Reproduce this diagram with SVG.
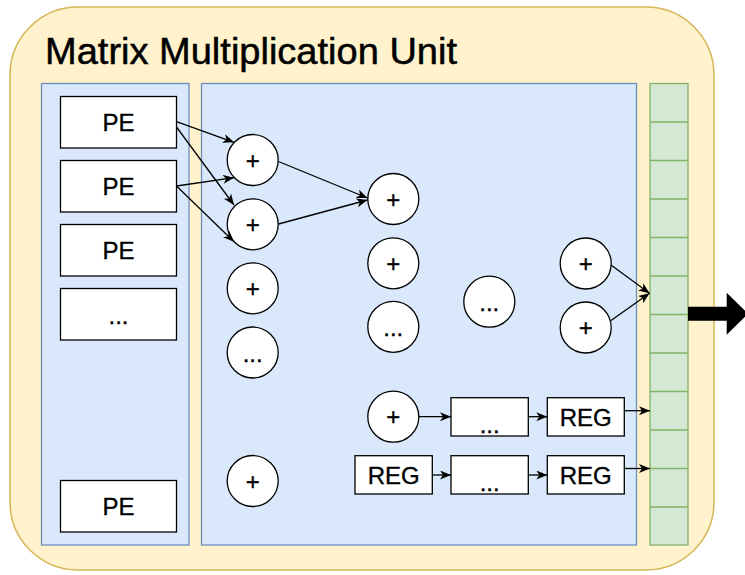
<svg xmlns="http://www.w3.org/2000/svg" width="745" height="575" viewBox="0 0 745 575">
  <style>
    .unit { fill: #fff2cc; stroke: #d6b656; stroke-width: 1.5; }
    .panel { fill: #dae8fc; stroke: #6c8ebf; stroke-width: 1.3; }
    .buf { fill: #d5e8d4; stroke: #82b366; stroke-width: 1.3; }
    .box { fill: #ffffff; stroke: #000000; stroke-width: 1.3; }
    .lbl { font-family: "Liberation Sans", Arial, Helvetica, sans-serif; font-size: 24px; fill: #000000; stroke: #000000; stroke-width: 0.35; text-anchor: middle; }
    .title { font-family: "Liberation Sans", Arial, Helvetica, sans-serif; font-size: 36px; fill: #000000; stroke: #000000; stroke-width: 0.5; }
    .edge { fill: none; stroke: #000000; stroke-width: 1.3; marker-end: url(#arr); }
  </style>
  <defs>
    <marker id="arr" markerUnits="userSpaceOnUse" markerWidth="12" markerHeight="10" refX="11" refY="4.5" orient="auto">
      <path d="M0,0 L11,4.5 L0,9 L3,4.5 Z" fill="#000000"/>
    </marker>
  </defs>

  <!-- Unit container -->
  <g id="mmu">
    <rect class="unit" x="10" y="7" width="704" height="563" rx="68" ry="68"/>
    <text class="title" x="45" y="64" textLength="412" lengthAdjust="spacingAndGlyphs">Matrix Multiplication Unit</text>
  </g>

  <!-- Panels -->
  <g id="pe-array">
    <rect class="panel" x="41.5" y="83.5" width="147.5" height="461.5"/>
  </g>
  <g id="adder-tree">
    <rect class="panel" x="201.5" y="83.5" width="435" height="461.5"/>
  </g>

  <!-- Output buffer: 12 cells -->
  <g id="output-buffer">
    <rect class="buf" x="650" y="83.5" width="38" height="461.5"/>
    <path d="M650,122 H688 M650,160.5 H688 M650,199 H688 M650,237.5 H688 M650,276 H688 M650,314.5 H688 M650,353 H688 M650,391.5 H688 M650,430 H688 M650,468.5 H688 M650,507 H688" stroke="#82b366" stroke-width="1.3" fill="none"/>
  </g>

  <!-- Output arrow -->
  <g id="output-arrow">
    <path d="M688,306.7 H726.7 V292.7 L748,313.7 L726.7,334.7 V320.7 H688 Z" fill="#000000"/>
  </g>

  <!-- Processing elements -->
  <g id="pe1"><rect class="box" x="60.5" y="96.5" width="116" height="51.5"/><text class="lbl" x="118.5" y="131">PE</text></g>
  <g id="pe2"><rect class="box" x="60.5" y="160.5" width="116" height="51.5"/><text class="lbl" x="118.5" y="195">PE</text></g>
  <g id="pe3"><rect class="box" x="60.5" y="224.5" width="116" height="51.5"/><text class="lbl" x="118.5" y="259">PE</text></g>
  <g id="pe-more"><rect class="box" x="60.5" y="288.5" width="116" height="51.5"/><text class="lbl" x="118.5" y="324">...</text></g>
  <g id="pe-last"><rect class="box" x="60.5" y="480.5" width="116" height="51.5"/><text class="lbl" x="118.5" y="515">PE</text></g>

  <!-- Adders, column 1 -->
  <g id="add-1a"><circle class="box" cx="252.7" cy="160" r="25.5"/><text class="lbl" x="252.7" y="168.5">+</text></g>
  <g id="add-1b"><circle class="box" cx="252.7" cy="224.3" r="25.5"/><text class="lbl" x="252.7" y="232.8">+</text></g>
  <g id="add-1c"><circle class="box" cx="252.7" cy="288.3" r="25.5"/><text class="lbl" x="252.7" y="296.8">+</text></g>
  <g id="add-1more"><circle class="box" cx="252.7" cy="352.5" r="25.5"/><text class="lbl" x="252.7" y="362">...</text></g>
  <g id="add-1last"><circle class="box" cx="252.7" cy="481" r="25.5"/><text class="lbl" x="252.7" y="489.5">+</text></g>

  <!-- Adders, column 2 -->
  <g id="add-2a"><circle class="box" cx="393.3" cy="199" r="25.5"/><text class="lbl" x="393.3" y="207.5">+</text></g>
  <g id="add-2b"><circle class="box" cx="393.3" cy="263.3" r="25.5"/><text class="lbl" x="393.3" y="271.8">+</text></g>
  <g id="add-2more"><circle class="box" cx="393.3" cy="326.8" r="25.5"/><text class="lbl" x="393.3" y="336.3">...</text></g>
  <g id="add-2last"><circle class="box" cx="393.3" cy="416.7" r="25.5"/><text class="lbl" x="393.3" y="425.2">+</text></g>

  <!-- Intermediate levels -->
  <g id="add-mid"><circle class="box" cx="489.3" cy="301.7" r="25.5"/><text class="lbl" x="489.3" y="311.2">...</text></g>

  <!-- Final adders -->
  <g id="add-fa"><circle class="box" cx="585.7" cy="263.5" r="25.5"/><text class="lbl" x="585.7" y="272">+</text></g>
  <g id="add-fb"><circle class="box" cx="585.7" cy="327.5" r="25.5"/><text class="lbl" x="585.7" y="336">+</text></g>

  <!-- Register pipelines -->
  <g id="pipe1-mid"><rect class="box" x="451" y="397.7" width="77.3" height="38.3"/><text class="lbl" x="489.7" y="433">...</text></g>
  <g id="pipe1-reg"><rect class="box" x="547.3" y="397.7" width="77" height="38.3"/><text class="lbl" x="585.8" y="426">REG</text></g>
  <g id="pipe2-reg0"><rect class="box" x="355" y="455.7" width="77.3" height="38.3"/><text class="lbl" x="393.7" y="484">REG</text></g>
  <g id="pipe2-mid"><rect class="box" x="451" y="455.7" width="77.3" height="38.3"/><text class="lbl" x="489.7" y="491">...</text></g>
  <g id="pipe2-reg"><rect class="box" x="547.3" y="455.7" width="77" height="38.3"/><text class="lbl" x="585.8" y="484">REG</text></g>

  <!-- Connectors -->
  <g id="connectors">
    <path class="edge" d="M176.5,121.7 L234,142.3"/>
    <path class="edge" d="M176.5,127 L234,205"/>
    <path class="edge" d="M176.5,186 L234,177.7"/>
    <path class="edge" d="M176.5,186 L234,241.7"/>
    <path class="edge" d="M278.5,161.5 L367.5,198"/>
    <path class="edge" d="M278.5,224 L367.5,200"/>
    <path class="edge" d="M611,265 L649.5,293.3"/>
    <path class="edge" d="M611,320.5 L649.5,293.3"/>
    <path class="edge" d="M418.8,416.7 L451,416.7"/>
    <path class="edge" d="M528.3,416.7 L547.3,416.7"/>
    <path class="edge" d="M624.3,410.7 L650,410.7"/>
    <path class="edge" d="M432.3,475 L451,475"/>
    <path class="edge" d="M528.3,475 L547.3,475"/>
    <path class="edge" d="M624.3,468.5 L650,468.5"/>
  </g>
</svg>
